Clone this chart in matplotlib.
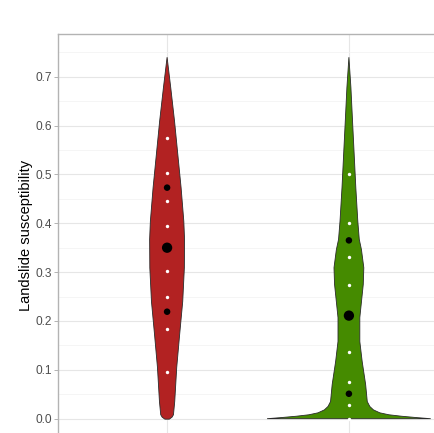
import matplotlib
matplotlib.use('Agg')
import matplotlib.pyplot as plt
import numpy as np

# violin outlines: level and half-width (x units)
red_levels = [0.740, 0.678, 0.609, 0.541, 0.473, 0.404, 0.367, 0.309, 0.240,
              0.172, 0.105, 0.035, 0.008, 0.003, -0.001]
red_halfw = [0.000, 0.020, 0.041, 0.059, 0.077, 0.092, 0.096, 0.095, 0.086,
             0.069, 0.053, 0.042, 0.035, 0.027, 0.012]
green_levels = [0.740, 0.678, 0.609, 0.541, 0.473, 0.404, 0.367, 0.346, 0.309,
                0.275, 0.207, 0.158, 0.117, 0.070, 0.035, 0.025, 0.018, 0.012,
                0.008, 0.005, 0.002, 0.000]
green_halfw = [0.000, 0.011, 0.020, 0.029, 0.038, 0.049, 0.057, 0.069, 0.082,
               0.079, 0.060, 0.060, 0.073, 0.092, 0.101, 0.115, 0.135, 0.170,
               0.220, 0.290, 0.380, 0.450]

# deciles (white) and quartiles (black) for each group
red_deciles = [0.574, 0.502, 0.445, 0.395, 0.303, 0.250, 0.184, 0.096]
red_quartiles = [0.473, 0.350, 0.219]
green_deciles = [0.500, 0.400, 0.332, 0.273, 0.137, 0.076, 0.027, 0.000]
green_quartiles = [0.365, 0.211, 0.051]

groups = [(1, red_levels, red_halfw, red_deciles, red_quartiles, '#B22222'),
          (2, green_levels, green_halfw, green_deciles, green_quartiles, '#458B00')]

plt.rcParams['font.family'] = ['Liberation Sans', 'DejaVu Sans']

fig = plt.figure(figsize=(4.35, 4.33), dpi=100)
ax = fig.add_axes([58 / 435, -4 / 433, 400 / 435, 403 / 433])

for pos, lv, hw, dec, qrt, col in groups:
  lv = np.array(lv)
  hw = np.array(hw)
  xs = np.concatenate([pos - hw, (pos + hw)[::-1]])
  ys = np.concatenate([lv, lv[::-1]])
  ax.fill(xs, ys, facecolor=col, edgecolor='#2a2a2a', linewidth=0.6, zorder=3)
  ax.scatter([pos] * len(dec), dec, s=6, color='white', zorder=4, linewidths=0)
  ax.scatter([pos] * len(qrt), qrt, s=[22, 55, 22], color='black', zorder=5, linewidths=0)

ax.set_xlim(0.4, 2.6)
ax.set_ylim(-0.0375, 0.7875)
ax.set_yticks(np.arange(0, 0.71, 0.1))
ax.set_yticks(np.arange(0.05, 0.76, 0.1), minor=True)
ax.set_yticklabels([f'{v:.1f}' for v in np.arange(0, 0.71, 0.1)])
ax.set_xticks([1, 2])
ax.set_xticklabels(['', ''])
ax.grid(which='major', color='#e6e6e6', linewidth=0.8, zorder=0)
ax.grid(which='minor', axis='y', color='#f2f2f2', linewidth=0.5, zorder=0)
ax.set_axisbelow(True)
ax.tick_params(axis='y', which='major', length=3, width=0.7, color='#b3b3b3',
               labelcolor='#4d4d4d', labelsize=8.6, pad=1.5)
ax.tick_params(axis='y', which='minor', length=0)
ax.tick_params(axis='x', length=0)
for side in ['left', 'top']:
  ax.spines[side].set_color('#b3b3b3')
  ax.spines[side].set_linewidth(1.0)
ax.spines['right'].set_visible(False)
ax.spines['bottom'].set_visible(False)

ax.set_ylabel('Landslide susceptibility', fontsize=10.5, color='black', labelpad=1.5)

fig.savefig('out.png', dpi=100)
